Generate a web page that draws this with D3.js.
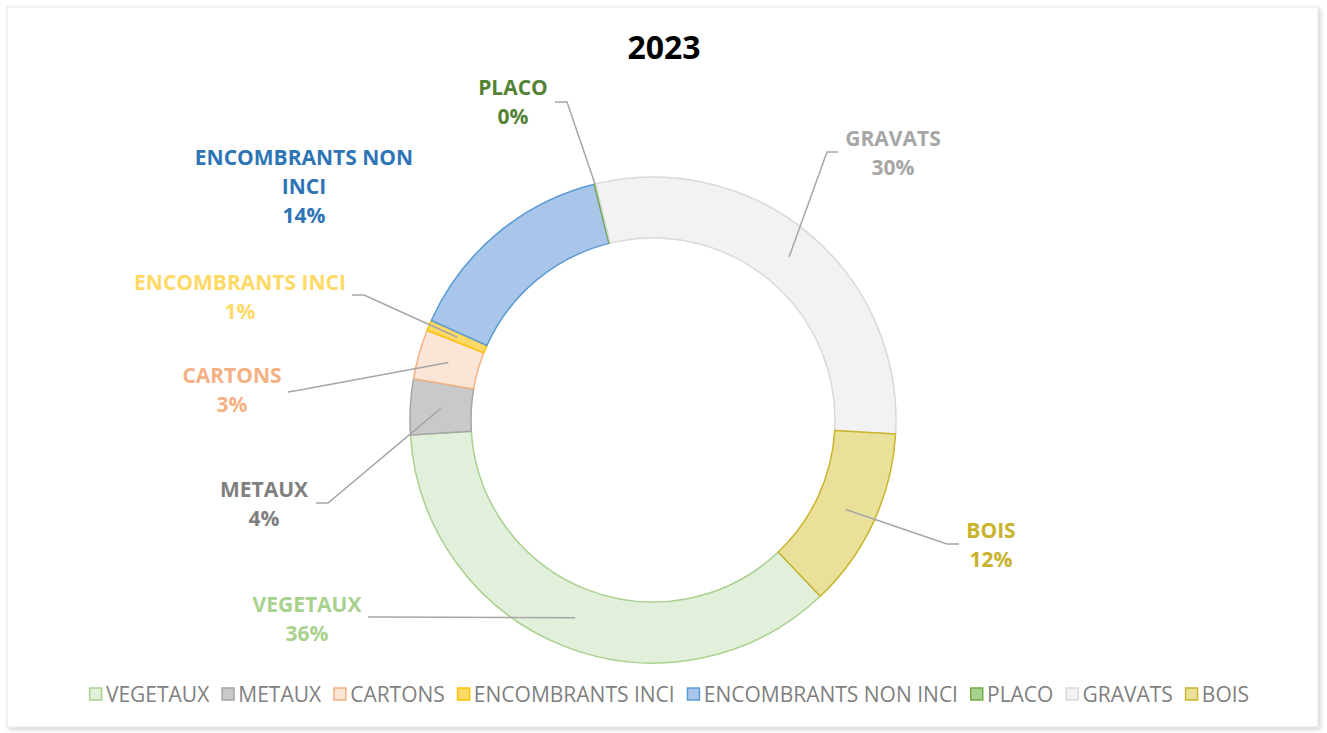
<!DOCTYPE html>
<html>
<head>
<meta charset="UTF-8">
<style>
  body { margin: 0; background: #fff; }
  svg text { font-family: "Open Sans", sans-serif; }
  .lbl { font-weight: 700; font-size: 21px; }
  .leader { fill: none; stroke: #a6a6a6; stroke-width: 1.5px; }
  .legend text { font-size: 21px; fill: #7f7f7f; }
</style>
</head>
<body>
<svg id="chart"></svg>
<script src="https://d3js.org/d3.v7.min.js"></script>
<script>
// data
const categories = ["VEGETAUX", "METAUX", "CARTONS", "ENCOMBRANTS INCI", "ENCOMBRANTS NON INCI", "PLACO", "GRAVATS", "BOIS"];
const shares = [36.1, 3.7, 3.3, 0.7, 14.4, 0.1, 29.7, 12.0];
const title = "2023";

// styles
const fills   = ["#e2efda", "#c9c9c9", "#fbe5d6", "#ffd966", "#a9c6ea", "#a9d18e", "#f2f2f2", "#e9e19a"];
const strokes = ["#a9d18e", "#a5a5a5", "#f4b183", "#ffc000", "#5b9bd5", "#70ad47", "#d9d9d9", "#c9b42c"];
const textCol = ["#a9d18e", "#7f7f7f", "#f4b183", "#ffd966", "#2e75b6", "#548235", "#a6a6a6", "#c9b22c"];

// label layout (Excel-style manual placement): label lines, text centre, first baseline
const labelLines = [["VEGETAUX"], ["METAUX"], ["CARTONS"], ["ENCOMBRANTS INCI"], ["ENCOMBRANTS NON", "INCI"], ["PLACO"], ["GRAVATS"], ["BOIS"]];
const labelAt = [[307, 612], [264, 497], [232, 383], [240, 290], [304, 165], [513, 95], [893, 146], [991, 538]];
// leader: start near label, elbow (null = no leader)
const leaderStart = [[368, 617], [316, 503], [288, 392], [352, 295], null, [555, 102], [838, 152], [959, 544]];
const leaderElbow = [[380, 617], [328, 503], [300, 390], [364, 295], null, [567, 102], [827, 152], [947, 544]];

const width = 1327, height = 733;
const cx = 653, cy = 420, rOut = 243, rIn = 182;
const lineGap = 29;

const svg = d3.select("#chart").attr("width", width).attr("height", height);

// chart area frame with soft shadow
const defs = svg.append("defs");
const f = defs.append("filter").attr("id", "shadow").attr("x", "-5%").attr("y", "-5%").attr("width", "110%").attr("height", "110%");
f.append("feDropShadow").attr("dx", 2).attr("dy", 2).attr("stdDeviation", 2).attr("flood-color", "#000").attr("flood-opacity", 0.18);
svg.append("rect")
  .attr("x", 7).attr("y", 7).attr("width", 1311).attr("height", 720)
  .attr("fill", "#fff").attr("stroke", "#e3e3e3").attr("filter", "url(#shadow)");

svg.append("text")
  .attr("x", 664).attr("y", 59)
  .attr("text-anchor", "middle")
  .style("font-size", "32px").style("font-weight", 700).attr("fill", "#000")
  .text(title);

const data = categories.map((c, i) => ({ name: c, value: shares[i], i: i }));

const start = 136.5 * Math.PI / 180;
const pie = d3.pie().sort(null).value(d => d.value).startAngle(start).endAngle(start + 2 * Math.PI);
const arcs = pie(data);

const arc = d3.arc().innerRadius(rIn).outerRadius(rOut);

const g = svg.append("g").attr("transform", `translate(${cx},${cy})`);
g.selectAll("path.slice")
  .data(arcs)
  .enter()
  .append("path")
  .attr("class", "slice")
  .attr("d", arc)
  .attr("fill", d => fills[d.data.i])
  .attr("stroke", d => strokes[d.data.i])
  .attr("stroke-width", 1.5)
  .attr("stroke-linejoin", "round");

// leader lines: end at centroid of ring (or outer edge for hair-thin slice)
arcs.forEach(d => {
  const i = d.data.i;
  if (!leaderStart[i]) return;
  const mid = (d.startAngle + d.endAngle) / 2;
  const r = d.data.value < 0.5 ? rOut : (rIn + rOut) / 2;
  const ex = cx + r * Math.sin(mid), ey = cy - r * Math.cos(mid);
  svg.append("path")
    .attr("class", "leader")
    .attr("d", d3.line()([leaderStart[i], leaderElbow[i], [ex, ey]]));
});

// labels
arcs.forEach(d => {
  const i = d.data.i;
  const lines = labelLines[i].concat([Math.round(d.data.value) + "%"]);
  const t = svg.append("text")
    .attr("class", "lbl")
    .attr("text-anchor", "middle")
    .attr("fill", textCol[i]);
  lines.forEach((s, k) => {
    t.append("tspan").attr("x", labelAt[i][0]).attr("y", labelAt[i][1] + k * lineGap).text(s);
  });
});

// legend
const legend = svg.append("g").attr("class", "legend");
let x = 0;
const sq = 12, gapSq = 5, gapItem = 12;
categories.forEach((c, i) => {
  const item = legend.append("g").attr("transform", `translate(${x},0)`);
  item.append("rect")
    .attr("x", 0.75).attr("y", -6).attr("width", sq).attr("height", sq)
    .attr("fill", fills[i]).attr("stroke", strokes[i]).attr("stroke-width", 1.5);
  const t = item.append("text").attr("x", sq + gapSq).attr("y", 8).text(c);
  x += sq + gapSq + t.node().getComputedTextLength() + gapItem;
});
const total = x - gapItem;
legend.attr("transform", `translate(${669 - total / 2},694)`);
</script>
</body>
</html>
